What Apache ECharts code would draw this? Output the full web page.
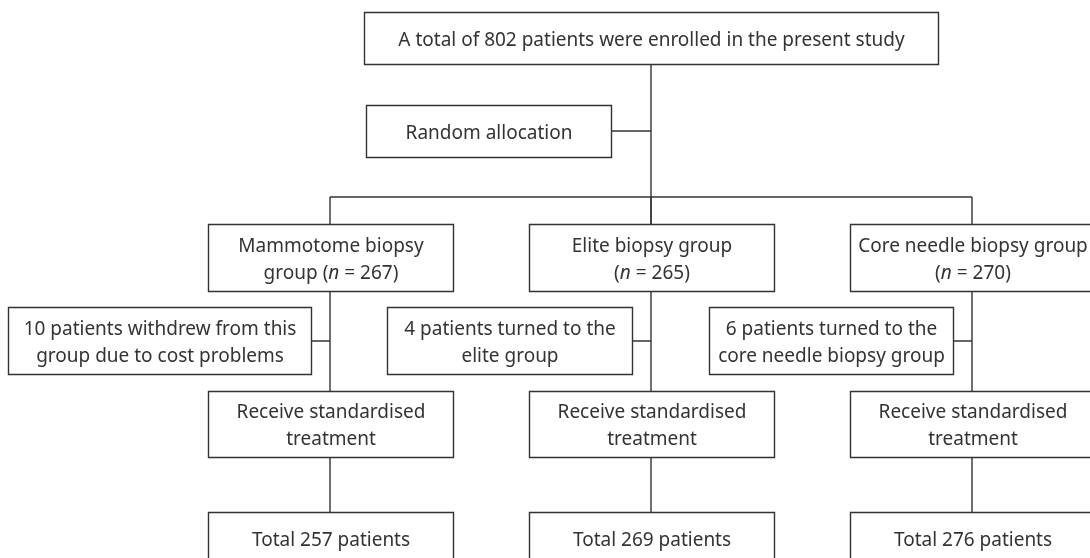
<!DOCTYPE html>
<html>
<head>
<meta charset="utf-8">
<script src="https://cdn.jsdelivr.net/npm/echarts@6/dist/echarts.min.js"></script>
<style>
  html, body { margin: 0; padding: 0; background: #fff; }
  #chart { width: 1090px; height: 558px; }
</style>
</head>
<body>
<div id="chart"></div>
<script>
// flowchart text / numbers
var enrolled = 802;
var groupNames = ['Mammotome biopsy\ngroup', 'Elite biopsy group\n', 'Core needle biopsy group\n'];
var groupN = [267, 265, 270];
var sideNotes = [
  '10 patients withdrew from this\ngroup due to cost problems',
  '4 patients turned to the\nelite group',
  '6 patients turned to the\ncore needle biopsy group'
];
var treatText = 'Receive standardised\ntreatment';
var totals = [257, 269, 276];

// layout (pixel space, y down)
var colX = [330, 651, 972];
var sideX = [159.5, 509.5, 831];
var sideW = [303, 245, 244];
var boxW = 245;
var rowY = { top: 38, random: 131, branch: 197, group: 257.5, side: 340.5, treat: 424, total: 538 };

var txt = { fontSize: 19, color: '#222', fontFamily: 'Noto Sans', lineHeight: 27 };

function plain(s) {
  return s.split('\n').map(function (l) { return '{a|' + l + '}'; }).join('\n');
}
function groupLabel(i) {
  var parts = groupNames[i].split('\n');
  var second = parts[1] ? parts[1] + ' (' : '(';
  return '{a|' + parts[0] + '}\n{a|' + second + '}{i|n}{a| = ' + groupN[i] + ')}';
}

// boxes: [cx, cy, w, h] + label
var boxes = [];
var labels = [];
function box(x, y, w, h, label) {
  boxes.push([x, y, w, h]);
  labels.push(label);
}
var lines = [];
function seg(pts) { lines.push({ coords: pts }); }

box(651, rowY.top, 574, 52, plain('A total of ' + enrolled + ' patients were enrolled in the present study'));
box(488.5, rowY.random, 245, 52, plain('Random allocation'));
seg([[651, rowY.top], [651, rowY.group]]);
seg([[488.5, rowY.random], [651, rowY.random]]);
seg([[colX[0], rowY.branch], [colX[2], rowY.branch]]);

for (var i = 0; i < 3; i++) {
  box(colX[i], rowY.group, boxW, 67, groupLabel(i));
  box(sideX[i], rowY.side, sideW[i], 67, plain(sideNotes[i]));
  box(colX[i], rowY.treat, boxW, 66, plain(treatText));
  box(colX[i], rowY.total, boxW, 52, plain('Total ' + totals[i] + ' patients'));
  seg([[colX[i], rowY.branch], [colX[i], rowY.total]]);
  seg([[sideX[i], 341], [colX[i], 341]]);
}

function snap(v) { return Math.round(v) + 0.5; }

var chart = echarts.init(document.getElementById('chart'));
chart.setOption({
  animation: false,
  grid: { left: 0, right: 0, top: 0, bottom: 0 },
  xAxis: { type: 'value', min: 0, max: 1090, show: false },
  yAxis: { type: 'value', min: 0, max: 558, inverse: true, show: false },
  series: [{
    type: 'lines',
    coordinateSystem: 'cartesian2d',
    polyline: true,
    silent: true,
    z: 1,
    lineStyle: { color: '#333', width: 1.4, opacity: 1 },
    data: lines
  }, {
    type: 'custom',
    coordinateSystem: 'cartesian2d',
    silent: true,
    clip: false,
    z: 3,
    data: boxes,
    renderItem: function (params, api) {
      var c = api.coord([api.value(0), api.value(1)]);
      var w = api.value(2), h = api.value(3);
      return {
        type: 'rect',
        shape: { x: snap(c[0] - w / 2), y: snap(c[1] - h / 2), width: Math.round(w), height: Math.round(h) },
        style: { fill: '#fff', stroke: '#333', lineWidth: 1.4 },
        textContent: {
          style: {
            text: labels[params.dataIndex],
            align: 'center',
            verticalAlign: 'middle',
            rich: { a: txt, i: Object.assign({}, txt, { fontStyle: 'italic' }) }
          }
        },
        textConfig: { position: 'inside', offset: [0, 2] }
      };
    }
  }]
});
</script>
</body>
</html>
